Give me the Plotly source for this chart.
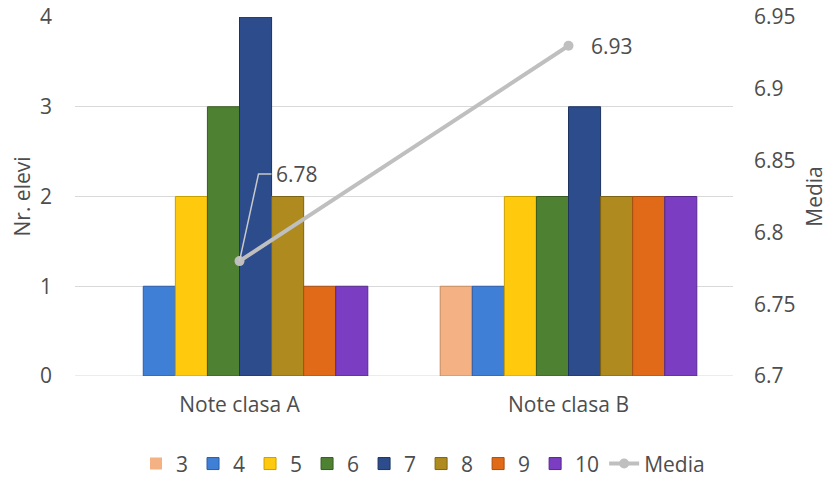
import plotly.graph_objects as go

categories = ["Note clasa A", "Note clasa B"]
grades = ["3", "4", "5", "6", "7", "8", "9", "10"]
counts_a = [0, 1, 2, 3, 4, 2, 1, 1]
counts_b = [1, 1, 2, 2, 3, 2, 2, 2]
media = [6.78, 6.93]
bar_colors = ["#F4B183", "#3F7FD6", "#FFC90E", "#4F8133", "#2C4C8C", "#AE8A1F", "#E06A17", "#7B3DC2"]
line_colors = ["#C98A5E", "#2B5CA8", "#C9A000", "#365C22", "#1D3360", "#7E6314", "#A84E10", "#57288C"]
left_ticks = [0, 1, 2, 3, 4]
right_ticks = [6.7, 6.75, 6.8, 6.85, 6.9, 6.95]

text_color = "#4D4D4D"
font_family = "Open Sans, Noto Sans, sans-serif"
fs = 21

fig = go.Figure()
for i, g in enumerate(grades):
    vals = [counts_a[i], counts_b[i]]
    fig.add_trace(go.Bar(
        x=categories, y=vals, name=g,
        marker=dict(color=bar_colors[i],
                    line=dict(color=line_colors[i], width=[0 if v == 0 else 1 for v in vals])),
    ))

fig.add_trace(go.Scatter(
    x=categories, y=media, name="Media", yaxis="y2",
    mode="lines+markers",
    line=dict(color="#BFBFBF", width=4),
    marker=dict(color="#BFBFBF", size=10),
))

# leader line for the first label
fig.add_shape(
    type="path", xref="x", yref="y2",
    xsizemode="pixel", ysizemode="pixel",
    xanchor=categories[0], yanchor=media[0],
    path="M 0,0 L 19,87 L 32,87",
    line=dict(color="#C8C8C8", width=1.5),
)
fig.add_annotation(
    x=categories[0], y=media[0], yref="y2",
    text=f"{media[0]:.2f}", showarrow=False,
    xanchor="left", yanchor="middle", xshift=34, yshift=87,
    font=dict(size=fs, color=text_color, family=font_family),
)
fig.add_annotation(
    x=categories[1], y=media[1], yref="y2",
    text=f"{media[1]:.2f}", showarrow=False, xanchor="left", yanchor="middle", xshift=20,
    font=dict(size=fs, color=text_color, family=font_family),
)

fig.update_layout(
    width=830, height=470,
    margin=dict(l=67, r=105, t=9, b=102, autoexpand=False),
    paper_bgcolor="white", plot_bgcolor="white",
    barmode="group", bargap=0.22, bargroupgap=0,
    font=dict(family=font_family, size=fs, color=text_color),
    xaxis=dict(showline=False, ticks="", ticklabelstandoff=14, automargin=False,
               ticklabeloverflow="allow",
               tickfont=dict(size=fs, color=text_color)),
    yaxis=dict(range=[0, 4], tickvals=left_ticks, showgrid=True, automargin=False,
               gridcolor="#D9D9D9", gridwidth=1, zeroline=False,
               showline=False, ticklabelstandoff=22, ticklabeloverflow="allow",
               title=dict(text="Nr. elevi", font=dict(size=fs, color=text_color), standoff=22),
               tickfont=dict(size=fs, color=text_color)),
    yaxis2=dict(range=[6.7, 6.95], tickvals=right_ticks, overlaying="y", side="right",
                showgrid=False, zeroline=False, showline=False, ticklabelstandoff=20,
                automargin=False, ticklabeloverflow="allow",
                title=dict(text="Media", font=dict(size=fs, color=text_color), standoff=12),
                tickfont=dict(size=fs, color=text_color)),
    legend=dict(orientation="h", x=0.5, xanchor="center", xref="container",
                y=0.03, yanchor="middle", yref="container",
                font=dict(size=fs, color=text_color), traceorder="normal"),
    showlegend=True,
)
fig.add_shape(type="line", xref="paper", yref="y", x0=0, x1=1, y0=0, y1=0,
              line=dict(color="#D9D9D9", width=1), layer="below")

fig.write_html("out.html")
